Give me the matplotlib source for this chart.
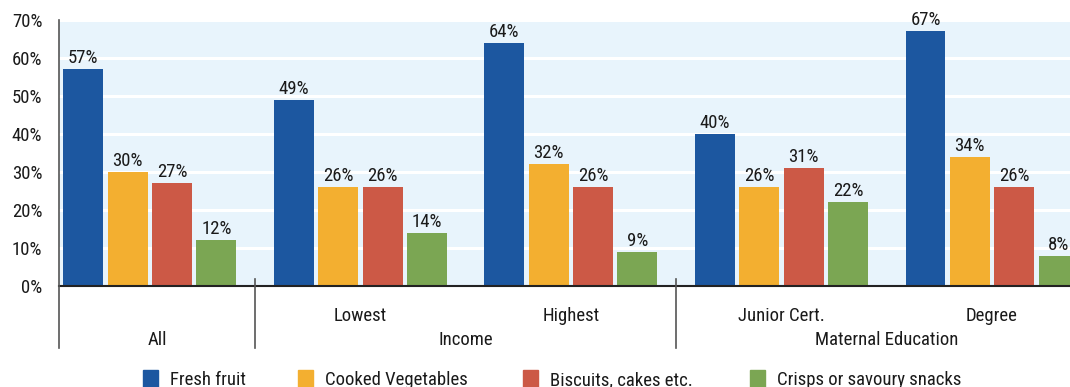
import matplotlib.pyplot as plt
import matplotlib.patches as mpatches
import numpy as np

plt.rcParams['font.family'] = ['Roboto Condensed', 'DejaVu Sans']

groups = ['All', 'Lowest', 'Highest', 'Junior Cert.', 'Degree']
series = ['Fresh fruit', 'Cooked Vegetables', 'Biscuits, cakes etc.', 'Crisps or savoury snacks']
fresh_fruit = [57, 49, 64, 40, 67]
cooked_veg = [30, 26, 32, 26, 34]
biscuits = [27, 26, 26, 31, 26]
crisps = [12, 14, 9, 22, 8]
colors = ['#1C57A0', '#F3AF30', '#CC5946', '#7BA653']

values = [fresh_fruit, cooked_veg, biscuits, crisps]
fs = 13.5
W, H = 1070, 387

fig = plt.figure(figsize=(W/100, H/100), dpi=100)
ax = fig.add_axes([59/W, 1 - 286/H, 1 - 59/W, 266/H])
ax.set_facecolor('#E8F4FC')

group_step = 4.75
gx = np.arange(len(groups)) * group_step
for k, vals in enumerate(values):
    xs = gx + k
    bars = ax.bar(xs, vals, width=0.9, color=colors[k], zorder=3)
    for b, v in zip(bars, vals):
        ax.annotate('%d%%' % v, (b.get_x() + b.get_width()/2, v),
                    xytext=(0, 1.5), textcoords='offset points',
                    ha='center', va='bottom', fontsize=fs, color='#1a1a1a')

ax.set_xlim(-0.55, 22.26)
ax.set_ylim(0, 70)
ax.set_yticks(range(0, 71, 10))
ax.set_yticklabels(['%d%%' % t for t in range(0, 71, 10)], fontsize=fs, color='#1a1a1a')
ax.tick_params(axis='y', length=0, pad=12)
ax.set_xticks([])
ax.yaxis.grid(True, color='white', linewidth=2.2, zorder=1)
ax.set_axisbelow(True)
for s in ['top', 'right', 'left']:
    ax.spines[s].set_visible(False)
ax.spines['bottom'].set_color('#222222')
ax.spines['bottom'].set_linewidth(1.5)
ax.spines['bottom'].set_zorder(4)

# group separators and the extended left edge
trans = ax.get_xaxis_transform()
left_x = -0.55
sep1 = (gx[0] + 3 + gx[1]) / 2
sep2 = (gx[2] + 3 + gx[3]) / 2
ax.plot([left_x, left_x], [1.0, -0.233], transform=trans, color='#555555', lw=1.2, clip_on=False, zorder=5)
for sx in [sep1, sep2]:
    ax.plot([sx, sx], [0.026, -0.233], transform=trans, color='#555555', lw=1.2, clip_on=False, zorder=5)

# category labels
for i in range(1, len(groups)):
    ax.text(gx[i] + 1.5, -0.113, groups[i], transform=trans, ha='center', va='center', fontsize=fs, color='#1a1a1a')
ax.text((left_x + sep1) / 2, -0.203, groups[0], transform=trans, ha='center', va='center', fontsize=fs, color='#1a1a1a')
ax.text((sep1 + sep2) / 2, -0.203, 'Income', transform=trans, ha='center', va='center', fontsize=fs, color='#1a1a1a')
ax.text((gx[3] + gx[4]) / 2 + 1.5, -0.203, 'Maternal Education', transform=trans, ha='center', va='center', fontsize=fs, color='#1a1a1a')

# legend along the bottom edge
leg_x = [143, 298, 523, 750]
for x0, c, lab in zip(leg_x, colors, series):
    fig.patches.append(mpatches.Rectangle((x0/W, 0), 15/W, 17/H, transform=fig.transFigure,
                                          color=c, figure=fig))
    fig.text((x0 + 27)/W, 2/H, lab, ha='left', va='baseline', fontsize=fs, color='#1a1a1a')

fig.savefig('out.png', dpi=100)
